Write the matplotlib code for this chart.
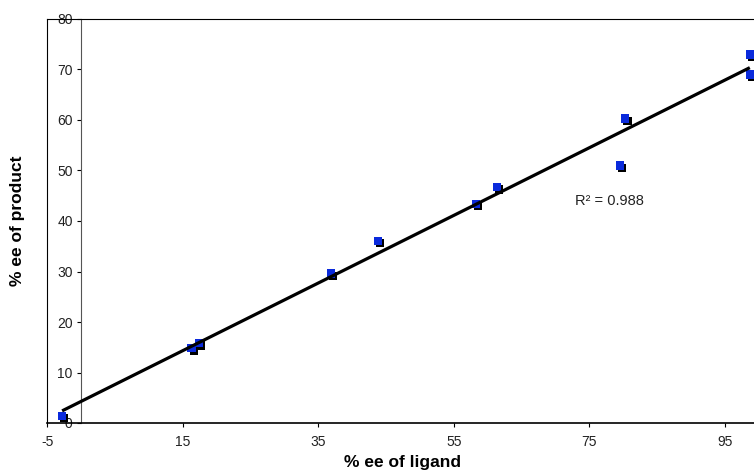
import numpy as np
import matplotlib
matplotlib.use("Agg")
import matplotlib.pyplot as plt
import matplotlib.patheffects as pe
from matplotlib.lines import Line2D

plt.rcParams['font.family'] = ['Liberation Sans', 'DejaVu Sans']
plt.rcParams['axes.unicode_minus'] = False

# data
ligand_ee = [-2.8, 16.3, 17.4, 36.9, 43.8, 58.3, 61.4, 79.5, 80.3, 98.7, 98.7]
product_ee = [1.4, 14.8, 15.8, 29.6, 36.1, 43.4, 46.7, 51.0, 60.3, 73.0, 69.0]
x_ticks = [-5, 15, 35, 55, 75, 95]
y_ticks = [0, 10, 20, 30, 40, 50, 60, 70, 80]
r2_text = "R² = 0.988"

W, H = 754, 474
fig = plt.figure(figsize=(W / 100, H / 100), dpi=100)
left_px, right_px, top_px, bottom_px = 47.2, 792.5, 19, 423
ax = fig.add_axes([left_px / W, 1 - bottom_px / H,
                   (right_px - left_px) / W, (bottom_px - top_px) / H])
ax.set_xlim(-5, 105)
ax.set_ylim(0, 80)

blue = '#0A2ADC'
ax.plot(ligand_ee, product_ee, linestyle='none', marker='s', markersize=6.0,
        markerfacecolor=blue, markeredgewidth=0, zorder=3, clip_on=False,
        path_effects=[pe.SimplePatchShadow(offset=(1.6, -1.6), shadow_rgbFace='black', alpha=1.0),
                      pe.Normal()])

# linear trendline
slope, intercept = np.polyfit(ligand_ee, product_ee, 1)
xs = np.array([min(ligand_ee), max(ligand_ee)])
ax.plot(xs, slope * xs + intercept, color='black', lw=2.3, zorder=4,
        solid_capstyle='butt')

# y axis crosses at x = 0
ax.spines['left'].set_position(('data', 0))
ax.spines['left'].set_color('#555555')
ax.spines['left'].set_linewidth(0.8)
ax.spines['right'].set_visible(False)
ax.spines['top'].set_linewidth(0.8)
ax.spines['bottom'].set_linewidth(1.2)

# plot-area border on the left
ax.add_line(Line2D([0, 0], [0, 1], transform=ax.transAxes, color='black',
                   lw=0.8, clip_on=False))

ax.set_xticks(x_ticks)
ax.set_yticks(y_ticks)
ax.tick_params(axis='x', direction='out', length=3, width=0.8, pad=6,
               labelsize=10, colors='black')
ax.tick_params(axis='y', direction='out', length=3, width=0.8, pad=3,
               labelsize=10, colors='black')
for lab in ax.get_yticklabels():
    lab.set_color('#222222')
for lab in ax.get_xticklabels():
    lab.set_color('#222222')

fig.text(402 / W, 1 - 463 / H, '% ee of ligand', ha='center', va='center',
         fontsize=12.5, fontweight='bold')
fig.text(18 / W, 1 - 221 / H, '% ee of product', ha='center', va='center',
         rotation=90, fontsize=12.5, fontweight='bold')
fig.text(575 / W, 1 - 201 / H, r2_text, ha='left', va='center', fontsize=10.5,
         color='#222222')

fig.savefig('out.png', dpi=100)
